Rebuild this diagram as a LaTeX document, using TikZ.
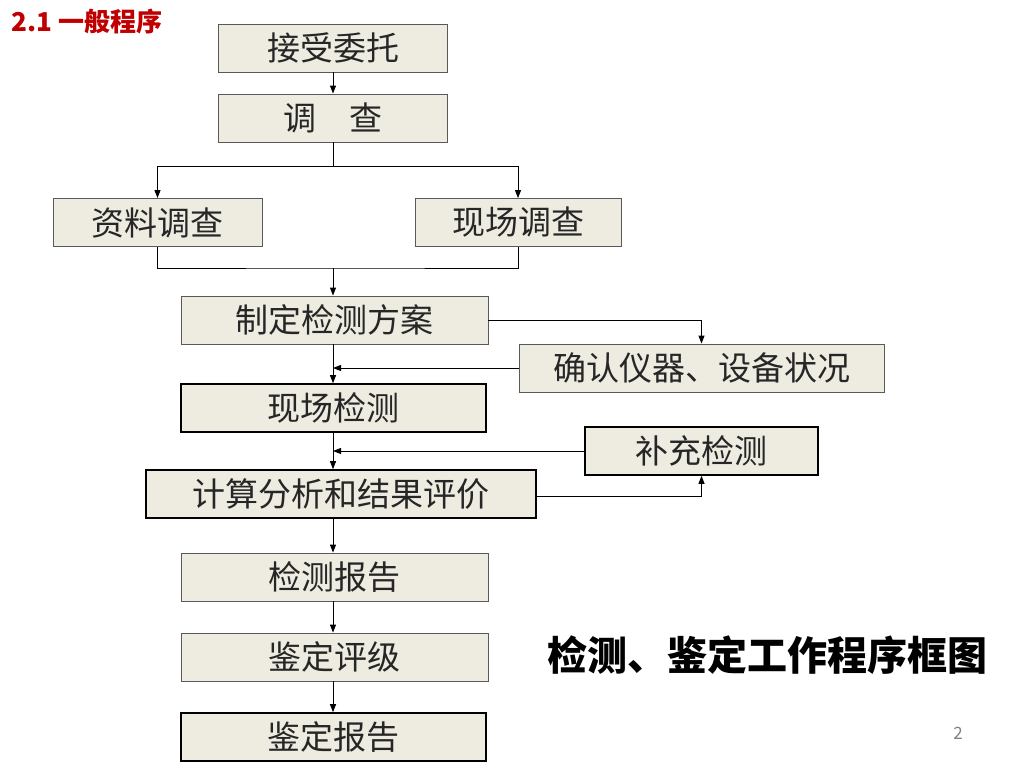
\documentclass[tikz,border=0pt]{standalone}
\usepackage{fontspec}
\setmainfont{Noto Sans CJK SC}
\usetikzlibrary{arrows.meta,positioning}
\definecolor{boxfill}{HTML}{EEECE1}
\definecolor{titlered}{HTML}{C00000}

\begin{document}
\begin{tikzpicture}[
  x=1pt, y=-1pt,
  stepbox/.style={draw=black!65, fill=boxfill, line width=0.9pt, inner sep=0pt,
                  minimum height=48pt, font=\fontsize{33}{36}\selectfont, text=black!85},
  stepboxb/.style={stepbox, draw=black, line width=1.6pt},
  arr/.style={-{Triangle[length=8pt, width=6pt]}, line width=0.9pt, draw=black},
  ln/.style={line width=0.9pt, draw=black}
]
\useasboundingbox (0,0) rectangle (1024,768);

% ---------------- headings ----------------
\node[anchor=west, font=\fontsize{26}{28}\selectfont\bfseries, text=titlered] (head) at (8,22) {2.1 一般程序};
\node[anchor=west, font=\fontsize{40}{44}\selectfont\bfseries] (caption) at (544,655) {检测、鉴定工作程序框图};
\node[font=\fontsize{17}{19}\selectfont, text=black!50] (pageno) at (958,733) {2};

% ---------------- main column ----------------
\coordinate (spine) at (333,0);
\node[stepbox, minimum width=229pt] (accept) at (333,48) {接受委托};
\node[stepbox, minimum width=229pt] (survey) at (333,118) {调\quad 查};
\node[stepbox, minimum width=209pt] (docs) at (157.5,222.5) {资料调查};
\node[stepbox, minimum width=206pt] (site) at (518,222.5) {现场调查};
\node[stepbox, minimum width=307pt] (plan) at (334.5,320) {制定检测方案};
\node[stepboxb, minimum width=305pt] (sitetest) at (333.5,408) {现场检测};
\node[stepboxb, minimum width=390pt] (calc) at (341,494) {计算分析和结果评价};
\node[stepbox, minimum width=307pt] (report) at (334.5,577) {检测报告};
\node[stepbox, minimum width=307pt] (rating) at (334.5,657) {鉴定评级};
\node[stepboxb, minimum width=305pt] (final) at (333.5,737) {鉴定报告};

% ---------------- side boxes ----------------
\node[stepbox, minimum width=365pt] (confirm) at (701.5,368) {确认仪器、设备状况};
\node[stepboxb, minimum width=233pt] (extra) at (701.5,451) {补充检测};

% ---------------- connectors ----------------
\coordinate (split) at (333,166);
\coordinate (merge) at (333,268);
\draw[arr] (accept.south -| spine) -- (survey.north -| spine);
\draw[ln] (survey.south -| spine) -- (split);
\draw[arr] (split) -| (docs.north);
\draw[arr] (split) -| (site.north);
\draw[ln] (docs.south) |- (merge) -| (site.south);
\draw[arr] (merge) -- (plan.north -| spine);
\draw[arr] (plan.east) -| (confirm.north);
\draw[arr] (plan.south -| spine) -- (sitetest.north -| spine);
\draw[arr] (confirm.west) -- (confirm.west -| spine);
\draw[arr] (sitetest.south -| spine) -- (calc.north -| spine);
\draw[arr] (extra.west) -- (extra.west -| spine);
\draw[arr] ([yshift=-2pt]calc.east) -| (extra.south);
\draw[arr] (calc.south -| spine) -- (report.north -| spine);
\draw[arr] (report.south -| spine) -- (rating.north -| spine);
\draw[arr] (rating.south -| spine) -- (final.north -| spine);

\end{tikzpicture}
\end{document}
